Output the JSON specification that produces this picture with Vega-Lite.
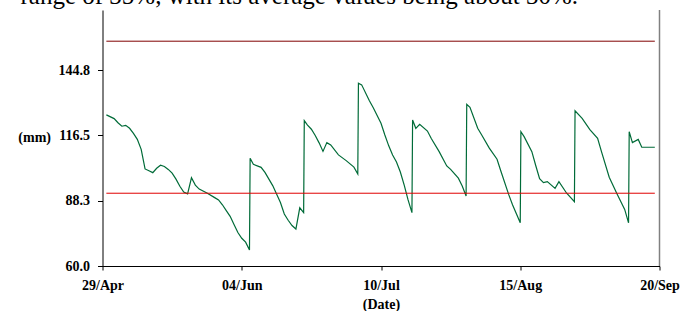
{
  "$schema": "https://vega.github.io/schema/vega-lite/v6.json",
  "width": 557,
  "height": 256,
  "autosize": {"type": "none"},
  "padding": {"left": 102.5, "top": 10, "right": 31.5, "bottom": 45},
  "background": "white",
  "title": {
    "text": "range of 35%, with its average values being about 30%.",
    "anchor": "start",
    "frame": "group",
    "orient": "top",
    "offset": 0,
    "dx": -82,
    "dy": 20,
    "baseline": "alphabetic",
    "font": "Liberation Serif, Times New Roman, serif",
    "fontSize": 25,
    "fontWeight": "normal",
    "color": "black"
  },
  "config": {
    "view": {"stroke": null},
    "axis": {
      "domainColor": "black",
      "tickColor": "black",
      "labelColor": "black",
      "titleColor": "black",
      "labelFont": "Liberation Serif, Times New Roman, serif",
      "titleFont": "Liberation Serif, Times New Roman, serif",
      "labelFontWeight": "bold",
      "titleFontWeight": "bold",
      "grid": false
    }
  },
  "datasets": {
    "series": [
      {"date": "2003-04-30", "value": 125.4},
      {"date": "2003-05-02", "value": 123.8},
      {"date": "2003-05-03", "value": 122.0},
      {"date": "2003-05-04", "value": 120.5},
      {"date": "2003-05-05", "value": 120.9},
      {"date": "2003-05-06", "value": 119.6},
      {"date": "2003-05-07", "value": 117.4},
      {"date": "2003-05-08", "value": 114.8},
      {"date": "2003-05-09", "value": 110.5},
      {"date": "2003-05-10", "value": 102.0},
      {"date": "2003-05-11", "value": 101.2},
      {"date": "2003-05-12", "value": 100.4},
      {"date": "2003-05-13", "value": 102.3},
      {"date": "2003-05-14", "value": 103.6},
      {"date": "2003-05-15", "value": 103.1},
      {"date": "2003-05-16", "value": 101.8},
      {"date": "2003-05-17", "value": 100.2},
      {"date": "2003-05-18", "value": 97.6},
      {"date": "2003-05-19", "value": 94.5},
      {"date": "2003-05-20", "value": 92.0},
      {"date": "2003-05-21", "value": 91.2},
      {"date": "2003-05-22", "value": 98.2},
      {"date": "2003-05-23", "value": 95.0},
      {"date": "2003-05-24", "value": 93.3},
      {"date": "2003-05-26", "value": 91.6},
      {"date": "2003-05-28", "value": 89.6},
      {"date": "2003-05-29", "value": 88.6},
      {"date": "2003-05-30", "value": 86.5},
      {"date": "2003-05-31", "value": 84.0},
      {"date": "2003-06-01", "value": 81.5},
      {"date": "2003-06-02", "value": 78.0},
      {"date": "2003-06-03", "value": 74.5},
      {"date": "2003-06-04", "value": 72.0},
      {"date": "2003-06-05", "value": 70.3},
      {"date": "2003-06-06", "value": 66.9},
      {"date": "2003-06-06T04:00Z", "value": 106.6},
      {"date": "2003-06-07", "value": 104.0},
      {"date": "2003-06-09", "value": 102.7},
      {"date": "2003-06-10", "value": 100.5},
      {"date": "2003-06-12", "value": 94.8},
      {"date": "2003-06-14", "value": 87.5},
      {"date": "2003-06-15", "value": 82.5},
      {"date": "2003-06-16", "value": 79.8},
      {"date": "2003-06-17", "value": 77.5},
      {"date": "2003-06-18", "value": 76.0},
      {"date": "2003-06-19", "value": 85.2},
      {"date": "2003-06-20", "value": 83.1},
      {"date": "2003-06-20T04:00Z", "value": 122.9},
      {"date": "2003-06-21", "value": 121.0},
      {"date": "2003-06-22", "value": 119.2},
      {"date": "2003-06-23", "value": 116.5},
      {"date": "2003-06-24", "value": 113.3},
      {"date": "2003-06-25", "value": 109.6},
      {"date": "2003-06-26", "value": 113.4},
      {"date": "2003-06-27", "value": 112.4},
      {"date": "2003-06-29", "value": 108.1},
      {"date": "2003-07-01", "value": 105.6},
      {"date": "2003-07-03", "value": 102.8},
      {"date": "2003-07-04", "value": 99.8},
      {"date": "2003-07-04T04:00Z", "value": 139.1},
      {"date": "2003-07-05", "value": 138.4},
      {"date": "2003-07-07", "value": 131.5},
      {"date": "2003-07-08", "value": 128.5},
      {"date": "2003-07-10", "value": 121.8},
      {"date": "2003-07-11", "value": 116.7},
      {"date": "2003-07-12", "value": 112.0},
      {"date": "2003-07-13", "value": 108.0},
      {"date": "2003-07-14", "value": 105.0},
      {"date": "2003-07-15", "value": 100.7},
      {"date": "2003-07-16", "value": 95.0},
      {"date": "2003-07-17", "value": 88.6},
      {"date": "2003-07-18", "value": 83.1},
      {"date": "2003-07-18T04:00Z", "value": 123.2},
      {"date": "2003-07-19", "value": 119.6},
      {"date": "2003-07-20", "value": 121.3},
      {"date": "2003-07-22", "value": 118.4},
      {"date": "2003-07-23", "value": 115.2},
      {"date": "2003-07-25", "value": 109.6},
      {"date": "2003-07-27", "value": 103.3},
      {"date": "2003-07-28", "value": 101.8},
      {"date": "2003-07-30", "value": 98.0},
      {"date": "2003-07-31", "value": 94.6},
      {"date": "2003-08-01", "value": 90.3},
      {"date": "2003-08-01T04:00Z", "value": 130.0},
      {"date": "2003-08-02", "value": 128.7},
      {"date": "2003-08-04", "value": 119.6},
      {"date": "2003-08-05", "value": 116.8},
      {"date": "2003-08-07", "value": 111.0},
      {"date": "2003-08-09", "value": 106.2},
      {"date": "2003-08-10", "value": 101.0},
      {"date": "2003-08-12", "value": 91.0},
      {"date": "2003-08-13", "value": 86.5},
      {"date": "2003-08-15", "value": 78.7},
      {"date": "2003-08-15T04:00Z", "value": 118.1},
      {"date": "2003-08-16", "value": 116.0},
      {"date": "2003-08-18", "value": 109.5},
      {"date": "2003-08-19", "value": 103.5},
      {"date": "2003-08-20", "value": 97.8},
      {"date": "2003-08-21", "value": 96.1},
      {"date": "2003-08-22", "value": 96.5},
      {"date": "2003-08-24", "value": 93.6},
      {"date": "2003-08-25", "value": 96.5},
      {"date": "2003-08-27", "value": 91.5},
      {"date": "2003-08-29", "value": 87.8},
      {"date": "2003-08-29T04:00Z", "value": 127.2},
      {"date": "2003-08-31", "value": 123.9},
      {"date": "2003-09-02", "value": 119.0},
      {"date": "2003-09-04", "value": 115.3},
      {"date": "2003-09-05", "value": 109.5},
      {"date": "2003-09-07", "value": 98.4},
      {"date": "2003-09-09", "value": 91.3},
      {"date": "2003-09-11", "value": 84.5},
      {"date": "2003-09-12", "value": 78.7},
      {"date": "2003-09-12T04:00Z", "value": 118.1},
      {"date": "2003-09-13", "value": 113.4},
      {"date": "2003-09-14T12:00Z", "value": 114.8},
      {"date": "2003-09-15T10:00Z", "value": 111.4},
      {"date": "2003-09-18T19:00Z", "value": 111.4}
    ],
    "refs": [
      {"date": "2003-04-30", "date2": "2003-09-18T19:00Z", "value": 157.3, "line": "upper"},
      {"date": "2003-04-30", "date2": "2003-09-18T19:00Z", "value": 91.5, "line": "lower"}
    ],
    "frame": [
      {"date": "2003-09-20"}
    ]
  },
  "layer": [
    {
      "data": {"name": "series"},
      "mark": {"type": "line", "color": "#006b38", "strokeWidth": 1.2},
      "encoding": {
        "x": {
          "field": "date", "type": "temporal",
          "scale": {"type": "utc", "domain": [{"year": 2003, "month": 4, "date": 29, "utc": true}, {"year": 2003, "month": 9, "date": 20, "utc": true}]},
          "axis": {
            "title": "(Date)",
            "labelExpr": "utcFormat(datum.value, '%d/%b')",
            "values": [
              {"year": 2003, "month": 4, "date": 29, "utc": true},
              {"year": 2003, "month": 6, "date": 4, "utc": true},
              {"year": 2003, "month": 7, "date": 10, "utc": true},
              {"year": 2003, "month": 8, "date": 15, "utc": true},
              {"year": 2003, "month": 9, "date": 20, "utc": true}
            ],
            "labelFlush": false,
            "labelOverlap": false,
            "labelFontSize": 14,
            "labelPadding": 8,
            "tickSize": 4,
            "titleFontSize": 14,
            "titlePadding": 5
          }
        },
        "y": {
          "field": "value", "type": "quantitative",
          "scale": {"domain": [60, 170.8], "nice": false, "zero": false},
          "axis": {
            "title": "(mm)",
            "values": [60, 88.3, 116.5, 144.8],
            "format": ".1f",
            "labelFontSize": 14,
            "labelPadding": 8,
            "tickSize": 5,
            "titleAngle": 0,
            "titleAlign": "right",
            "titleBaseline": "middle",
            "titleX": -52,
            "titleY": 127,
            "titleFontSize": 14
          }
        }
      }
    },
    {
      "data": {"name": "refs"},
      "mark": {"type": "rule", "strokeWidth": 1},
      "encoding": {
        "x": {
          "field": "date", "type": "temporal",
          "scale": {"type": "utc", "domain": [{"year": 2003, "month": 4, "date": 29, "utc": true}, {"year": 2003, "month": 9, "date": 20, "utc": true}]},
          "axis": {
            "title": "(Date)",
            "labelExpr": "utcFormat(datum.value, '%d/%b')",
            "values": [
              {"year": 2003, "month": 4, "date": 29, "utc": true},
              {"year": 2003, "month": 6, "date": 4, "utc": true},
              {"year": 2003, "month": 7, "date": 10, "utc": true},
              {"year": 2003, "month": 8, "date": 15, "utc": true},
              {"year": 2003, "month": 9, "date": 20, "utc": true}
            ],
            "labelFlush": false,
            "labelOverlap": false,
            "labelFontSize": 14,
            "labelPadding": 8,
            "tickSize": 4,
            "titleFontSize": 14,
            "titlePadding": 5
          }
        },
        "x2": {"field": "date2"},
        "y": {
          "field": "value", "type": "quantitative",
          "scale": {"domain": [60, 170.8], "nice": false, "zero": false},
          "axis": {
            "title": "(mm)",
            "values": [60, 88.3, 116.5, 144.8],
            "format": ".1f",
            "labelFontSize": 14,
            "labelPadding": 8,
            "tickSize": 5,
            "titleAngle": 0,
            "titleAlign": "right",
            "titleBaseline": "middle",
            "titleX": -52,
            "titleY": 127,
            "titleFontSize": 14
          }
        },
        "color": {"field": "line", "type": "nominal", "scale": {"domain": ["upper", "lower"], "range": ["#800000", "#e00000"]}, "legend": null}
      }
    },
    {
      "data": {"name": "frame"},
      "mark": {"type": "rule", "color": "#808080", "strokeWidth": 1.5},
      "encoding": {
        "x": {
          "field": "date", "type": "temporal",
          "scale": {"type": "utc", "domain": [{"year": 2003, "month": 4, "date": 29, "utc": true}, {"year": 2003, "month": 9, "date": 20, "utc": true}]},
          "axis": {
            "title": "(Date)",
            "labelExpr": "utcFormat(datum.value, '%d/%b')",
            "values": [
              {"year": 2003, "month": 4, "date": 29, "utc": true},
              {"year": 2003, "month": 6, "date": 4, "utc": true},
              {"year": 2003, "month": 7, "date": 10, "utc": true},
              {"year": 2003, "month": 8, "date": 15, "utc": true},
              {"year": 2003, "month": 9, "date": 20, "utc": true}
            ],
            "labelFlush": false,
            "labelOverlap": false,
            "labelFontSize": 14,
            "labelPadding": 8,
            "tickSize": 4,
            "titleFontSize": 14,
            "titlePadding": 5
          }
        }
      }
    }
  ]
}
